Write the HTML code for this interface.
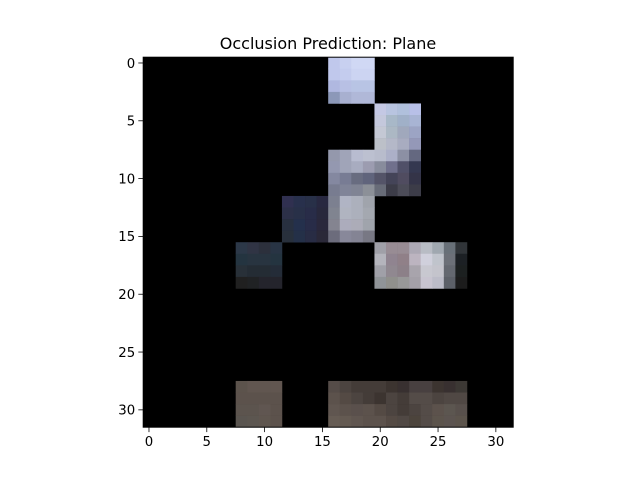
<!DOCTYPE html>
<html><head><meta charset="utf-8"><style>
body{margin:0;background:#fff;}
svg{display:block;font-family:"DejaVu Sans","Liberation Sans",sans-serif;}
</style></head><body>
<svg id="chart" width="640" height="480" viewBox="0 0 640 480">
<rect width="640" height="480" fill="#fff"/>
<text x="328" y="49" font-size="16" text-anchor="middle" fill="#000">Occlusion Prediction: Plane</text>
<g id="img"></g>
<g id="axes"></g>
</svg>
<script>
const gridSize = 32;
const xTicks = [0,5,10,15,20,25,30];
const yTicks = [0,5,10,15,20,25,30];
// blocks: [startRow, startCol, rows of colors]
const blockA = [0,16,[["c0c8ec","c8d0f0","d0d8f4","d0d8f4"],["c0c8ec","c4ccee","ccd4f2","ccd4f2"],["b0b8e0","b8c0e4","b8c4e4","b8c4e4"],["8c98b8","a8b0d0","b0b8d8","b0b8d8"]]];
const blockB = [4,20,[["c4c8e4","b8c4e0","b0c0dc","b8c0e8"],["c4c8dc","a8b8c8","a0b0c8","a8b4d4"],["c4c8d4","acb8c4","a0a8bc","9ca4c4"],["bcc0c8","b4b8c8","a8acc0","9498b8"]]];
const blockC = [8,16,[["9498ac","a0a4b8","b8bcd0","bcc0d0","b8bccc","acb0c8","8c90a4","646880"],["9498b0","a0a4b8","a8acc0","9c9cb0","888c9c","70708c","505068","343850"],["8488a0","787c94","686c80","60647c","545468","444458","504c60","343448"],["787c90","808498","808494","8c9098","686c78","3c3c48","4c4c58","3c3c48"]]];
const blockD = [12,12,[["303050","28304c","283048","282840","7c8090","b0b4c4","acb0bc","a0a4ac"],["2c3048","283048","282c48","28283c","808490","b0b4c0","acb0bc","a4a8b0"],["283040","24304c","282c48","2a283c","848490","acacbc","acacb8","a0a4ac"],["28303c","243048","282c44","2a2838","6c6c7c","88889a","848494","787884"]]];
const blockE = [16,8,[["2c3848","303444","2c303c","283444"],["243440","283440","283440","243440"],["283038","242c34","242c34","242c38"],["202020","202224","24242c","24242c"]]];
const blockF = [16,20,[["a0a0a8","988c94","988c94","aca8b4","b8bcc4","a0a8b0","687078","303438"],["b4b4bc","908490","908088","bcb4c0","d0d0dc","c0c4cc","6c7078","1c2024"],["a0a0a8","908890","8c8088","a8a4ac","c8c8d0","c4c4cc","646870","1c2020"],["909498","90908c","989898","a4a0a8","c8c4d0","bcbcc8","5c6068","1c1c1c"]]];
const blockG = [28,8,[["5c534c","615650","615650","615650"],["5c524c","5c524c","5c524c","5c524c"],["5c544e","5c544e","605651","5c524c"],["5a5550","5c5650","5f564f","5c524c"]]];
const blockH = [28,16,[["554c48","4c4440","443c38","443c38","443c38","3c3430","383030","484040","484040","3c3430","383030","3c3834"],["5c524c","544a44","4c4440","443c38","3c3430","4c4440","443c38","544c48","544c48","4c4440","504844","504844"],["605650","5c524c","5a504c","5c524c","544a44","4c4440","443c38","4c4440","544c48","5c524c","5c5650","58504c"],["665c54","645a52","605650","5c524c","5c524c","544a44","504844","4c443c","544c48","5c544c","5c5450","5c544c"]]];
const blocks = [blockA,blockB,blockC,blockD,blockE,blockF,blockG,blockH];

const L=143.2, T=57.2, S=370, cell=S/gridSize;
const px = v => L + (v+0.5)*cell;
const py = v => T + (v+0.5)*cell;
const NS="http://www.w3.org/2000/svg";
const img=document.getElementById('img'), axes=document.getElementById('axes');
function mk(tag,attrs,parent){const e=document.createElementNS(NS,tag);for(const k in attrs)e.setAttribute(k,attrs[k]);parent.appendChild(e);return e;}
const bg=mk('rect',{x:L,y:T,width:S,height:S,fill:'#000'},img);


blocks.forEach(b=>{
  const [r0,c0,rows]=b;
  rows.forEach((row,i)=>row.forEach((col,j)=>{
    const r=mk('rect',{x:(px(c0+j)-cell/2).toFixed(2),y:(py(r0+i)-cell/2).toFixed(2),width:(cell+0.3).toFixed(2),height:(cell+0.3).toFixed(2),fill:'#'+col},img);
    
    
  }));
});
const frame=mk('rect',{x:L,y:T,width:S,height:S,fill:'none',stroke:'#000','stroke-width':1},axes);


xTicks.forEach(t=>{
  const x=px(t);
  const l=mk('line',{x1:x,x2:x,y1:T+S,y2:T+S+4.9,stroke:'#000','stroke-width':0.8},axes);
  
  
  const tx=mk('text',{x:x,y:T+S+19,'font-size':13.3,'text-anchor':'middle'},axes);
  tx.textContent=t;
  
  
});
yTicks.forEach(t=>{
  const y=py(t);
  const l=mk('line',{x1:L-4.9,x2:L,y1:y,y2:y,stroke:'#000','stroke-width':0.8},axes);
  
  
  const tx=mk('text',{x:L-8,y:y+4.8,'font-size':13.3,'text-anchor':'end'},axes);
  tx.textContent=t;
  
  
});
</script>
</body></html>
